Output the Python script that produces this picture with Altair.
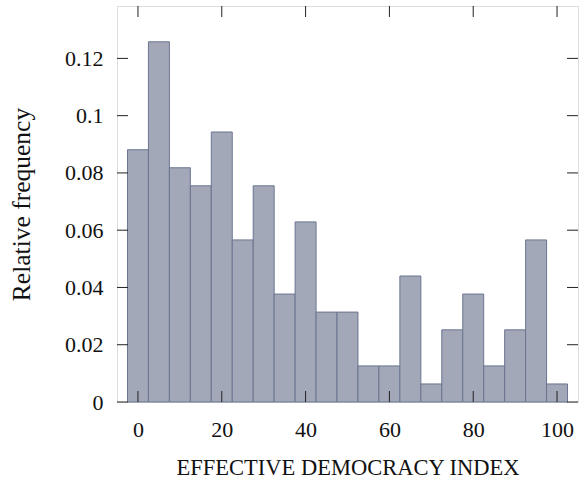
import altair as alt
import pandas as pd

# Bin centers of the histogram (bin width 5)
centers = [0, 5, 10, 15, 20, 25, 30, 35, 40, 45, 50, 55, 60, 65, 70, 75, 80, 85, 90, 95, 100]
# Relative frequencies
freqs = [0.0881, 0.1258, 0.0818, 0.0755, 0.0943, 0.0566, 0.0755, 0.0377, 0.0629, 0.0314,
         0.0314, 0.0126, 0.0126, 0.0440, 0.0063, 0.0252, 0.0377, 0.0126, 0.0252, 0.0566, 0.0063]
x_ticks = [0, 20, 40, 60, 80, 100]
y_ticks = [0, 0.02, 0.04, 0.06, 0.08, 0.1, 0.12]

W, H = 461, 396
TL = 11
FONT = "Liberation Serif"

df = pd.DataFrame({"c": centers, "f": freqs})
df["x0"] = df["c"] - 2.5
df["x1"] = df["c"] + 2.5
xt = pd.DataFrame({"t": x_ticks})
yt = pd.DataFrame({"t": y_ticks})

xs = alt.Scale(domain=[-5, 105], nice=False, zero=False)
ys = alt.Scale(domain=[0, 0.1383], nice=False)

bars = alt.Chart(df).mark_rect(fill="#A2A8B7", stroke="#6B7590", strokeWidth=1).encode(
    x=alt.X("x0:Q", scale=xs,
            axis=alt.Axis(values=x_ticks, title="EFFECTIVE DEMOCRACY INDEX", ticks=False, domain=False,
                          grid=False, labelFont=FONT, labelFontSize=22, labelColor="#111111",
                          labelPadding=17, titleFont=FONT, titleFontSize=22.5, titleFontWeight="normal",
                          titleColor="#111111", titlePadding=16)),
    x2="x1:Q",
    y=alt.Y("f:Q", scale=ys,
            axis=alt.Axis(values=y_ticks, format="~g", title="Relative frequency", ticks=False, domain=False,
                          grid=False, labelFont=FONT, labelFontSize=22, labelColor="#111111",
                          labelPadding=14, titleFont=FONT, titleFontSize=25.5, titleFontWeight="normal",
                          titleColor="#111111", titlePadding=30)),
    y2=alt.datum(0),
)

tick_style = dict(color="#222222", strokeWidth=1)
bt = alt.Chart(xt).mark_rule(**tick_style).encode(x=alt.X("t:Q", scale=xs), y=alt.value(H), y2=alt.value(H - TL))
tt = alt.Chart(xt).mark_rule(**tick_style).encode(x=alt.X("t:Q", scale=xs), y=alt.value(0), y2=alt.value(TL))
lt = alt.Chart(yt).mark_rule(**tick_style).encode(y=alt.Y("t:Q", scale=ys), x=alt.value(0), x2=alt.value(TL))
rt = alt.Chart(yt).mark_rule(**tick_style).encode(y=alt.Y("t:Q", scale=ys), x=alt.value(W - TL), x2=alt.value(W))

chart = alt.layer(bars, bt, tt, lt, rt).properties(
    width=W, height=H,
    autosize=alt.AutoSizeParams(type="none"),
    padding={"left": 117, "top": 6, "right": 1, "bottom": 86},
).configure_view(stroke="#222222", strokeWidth=1).configure(background="white")

chart.save("out.html", embed_options={"renderer": "svg", "actions": False})
